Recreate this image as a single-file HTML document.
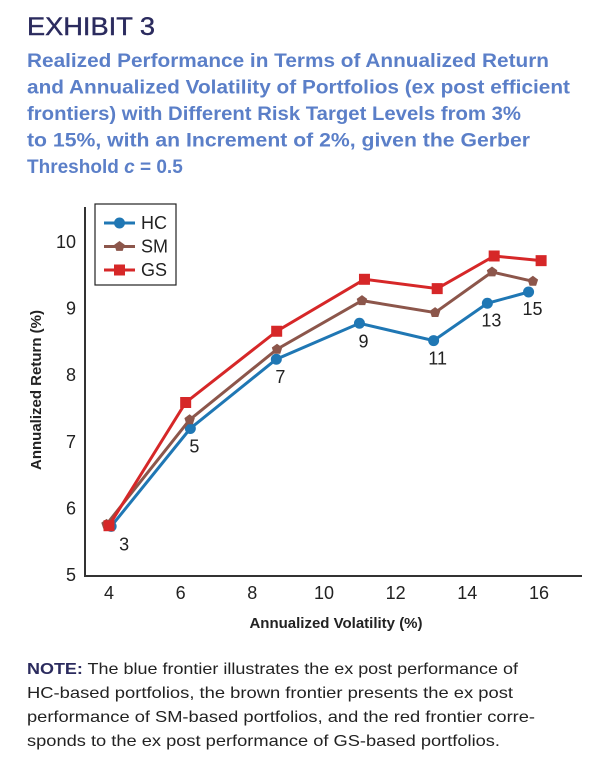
<!DOCTYPE html>
<html><head><meta charset="utf-8"><style>
html,body{margin:0;padding:0;background:#fff;}
svg{display:block;font-family:"Liberation Sans",Arial,sans-serif;}
</style></head><body>
<svg id="chart" width="609" height="759" viewBox="0 0 609 759" xmlns="http://www.w3.org/2000/svg">
<text x="27" y="35" font-size="25" fill="#2b2b5e" stroke="#2b2b5e" stroke-width="0.4" textLength="128" lengthAdjust="spacingAndGlyphs">EXHIBIT 3</text>
<g font-size="19" font-weight="bold" fill="#5b7fc8">
<text x="27" y="67" textLength="522" lengthAdjust="spacingAndGlyphs">Realized Performance in Terms of Annualized Return</text>
<text x="27" y="93.5" textLength="543" lengthAdjust="spacingAndGlyphs">and Annualized Volatility of Portfolios (ex post efficient</text>
<text x="27" y="120" textLength="494" lengthAdjust="spacingAndGlyphs">frontiers) with Different Risk Target Levels from 3%</text>
<text x="27" y="146.5" textLength="503" lengthAdjust="spacingAndGlyphs">to 15%, with an Increment of 2%, given the Gerber</text>
<text x="27" y="173">Threshold <tspan font-style="italic">c</tspan> = 0.5</text>
</g>
<g id="plot"></g>
<g font-size="16" fill="#222">
<text x="27" y="674" textLength="491" lengthAdjust="spacingAndGlyphs"><tspan font-weight="bold" fill="#2b2b5e">NOTE:</tspan> The blue frontier illustrates the ex post performance of</text>
<text x="27" y="698" textLength="486" lengthAdjust="spacingAndGlyphs">HC-based portfolios, the brown frontier presents the ex post</text>
<text x="27" y="722" textLength="508" lengthAdjust="spacingAndGlyphs">performance of SM-based portfolios, and the red frontier corre-</text>
<text x="27" y="746" textLength="473" lengthAdjust="spacingAndGlyphs">sponds to the ex post performance of GS-based portfolios.</text>
</g>
</svg>
<script>
const xTicks = [4, 6, 8, 10, 12, 14, 16];
const yTicks = [5, 6, 7, 8, 9, 10];
const riskTargets = ["3", "5", "7", "9", "11", "13", "15"];
const hcX = [4.06, 6.27, 8.67, 10.99, 13.06, 14.56, 15.71];
const hcY = [5.73, 7.20, 8.24, 8.78, 8.52, 9.08, 9.25];
const smX = [3.93, 6.25, 8.69, 11.06, 13.10, 14.69, 15.83];
const smY = [5.76, 7.33, 8.39, 9.12, 8.94, 9.55, 9.41];
const gsX = [4.00, 6.14, 8.68, 11.13, 13.16, 14.75, 16.06];
const gsY = [5.74, 7.59, 8.66, 9.44, 9.30, 9.79, 9.72];

const NS = "http://www.w3.org/2000/svg";
const sx = v => 109 + (v - 4) * 35.83;
const sy = v => 575 - (v - 5) * 66.6;
const g = document.getElementById('plot');
function mk(tag, attrs, parent) {
  const e = document.createElementNS(NS, tag);
  for (const k in attrs) e.setAttribute(k, attrs[k]);
  (parent || g).appendChild(e);
  return e;
}
let ax = mk('path', {d: 'M85 207 V576 H582', fill: 'none', stroke: '#333', 'stroke-width': 2});


xTicks.forEach(t => {
  const e = mk('text', {x: sx(t), y: 599, 'font-size': 18, 'text-anchor': 'middle', fill: '#222'});
  e.textContent = t;
  
  
});
yTicks.forEach(t => {
  const e = mk('text', {x: 76, y: sy(t) + 6, 'font-size': 18, 'text-anchor': 'end', fill: '#222'});
  e.textContent = t;
  
  
});
let xt = mk('text', {x: 336, y: 628, 'font-size': 15, 'font-weight': 'bold', 'text-anchor': 'middle', fill: '#222'});
xt.textContent = 'Annualized Volatility (%)';


let yt = mk('text', {x: 0, y: 0, 'font-size': 15, 'font-weight': 'bold', 'text-anchor': 'middle', fill: '#222', transform: 'translate(41,390) rotate(-90)'});
yt.textContent = 'Annualized Return (%)';



function marker(type, x, y, color, parent) {
  if (type === 'circle') return mk('circle', {cx: x, cy: y, r: 5.5, fill: color}, parent);
  if (type === 'square') return mk('rect', {x: x - 5.5, y: y - 5.5, width: 11, height: 11, fill: color}, parent);
  const r = 5.5, pts = [];
  for (let i = 0; i < 5; i++) { const a = -Math.PI / 2 + i * 2 * Math.PI / 5; pts.push((x + r * Math.cos(a)).toFixed(1) + ',' + (y + r * Math.sin(a)).toFixed(1)); }
  return mk('polygon', {points: pts.join(' '), fill: color}, parent);
}
const series = [
  {name: 'hc', xs: hcX, ys: hcY, color: '#1f77b4', m: 'circle'},
  {name: 'sm', xs: smX, ys: smY, color: '#8c564b', m: 'pent'},
  {name: 'gs', xs: gsX, ys: gsY, color: '#d62728', m: 'square'}
];
series.forEach(s => {
  const sg = mk('g', {});
  
  
  const d = s.xs.map((x, i) => (i ? 'L' : 'M') + sx(x).toFixed(1) + ' ' + sy(s.ys[i]).toFixed(1)).join(' ');
  const ln = mk('path', {d: d, fill: 'none', stroke: s.color, 'stroke-width': 3}, sg);
  
  
  s.xs.forEach((x, i) => {
    const p = marker(s.m, sx(x), sy(s.ys[i]), s.color, sg);
    
    
  });
});
riskTargets.forEach((lab, i) => {
  const e = mk('text', {x: sx(hcX[i]) + (i === 0 ? 8 : 4), y: sy(hcY[i]) + (i >= 5 ? 23 : 24), 'font-size': 18, 'text-anchor': i === 0 ? 'start' : 'middle', fill: '#222'});
  e.textContent = lab;
  
  
});
const lg = mk('g', {});


mk('rect', {x: 95, y: 204, width: 81, height: 81, fill: '#fff', stroke: '#222', 'stroke-width': 1.2}, lg);
series.forEach((s, i) => {
  const y = 223 + i * 23.5;
  const le = mk('g', {}, lg);
  
  
  mk('line', {x1: 104, y1: y, x2: 135, y2: y, stroke: s.color, 'stroke-width': 3}, le);
  marker(s.m, 119.5, y, s.color, le);
  const t = mk('text', {x: 141, y: y + 6, 'font-size': 18, fill: '#222'}, le);
  t.textContent = s.name.toUpperCase();
});
</script>
</body></html>
